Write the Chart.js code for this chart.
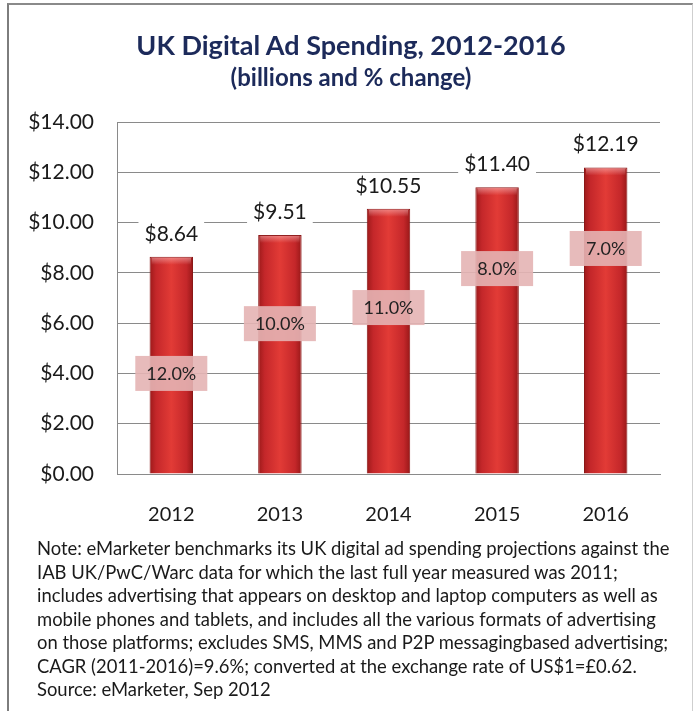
<!DOCTYPE html>
<html>
<head>
<meta charset="utf-8">
<script src="https://cdn.jsdelivr.net/npm/chart.js@4.4.0/dist/chart.umd.min.js"></script>
<style>
  body { margin: 0; background: #fff; }
  #wrap { position: relative; width: 697px; height: 711px; overflow: hidden; }
  #frame { position: absolute; left: 7px; top: 3px; width: 683px; height: 720px;
           border-left: 2px solid #7d7d7d; border-top: 2px solid #8a8a8a; border-right: 1px solid #cfcfcf; }
  #c { position: absolute; left: 0; top: 0; }
  .ttl { position: absolute; left: 0; width: 702px; text-align: center; font-family: Lato, sans-serif;
         font-weight: bold; color: #1c2a5a; white-space: nowrap; }
  #title { top: 29px; font-size: 27px; line-height: 32px; }
  #subtitle { top: 63px; font-size: 24px; line-height: 28px; }
  #note { position: absolute; left: 37px; top: 537px; font-family: Lato, sans-serif; font-size: 17px;
          line-height: 23.5px; color: #1a1a1a; white-space: nowrap; }
</style>
</head>
<body>
<div id="wrap">
  <div id="frame"></div>
  <canvas id="c" width="697" height="540"></canvas>
  <div class="ttl" id="title"></div>
  <div class="ttl" id="subtitle"></div>
  <div id="note"></div>
</div>
<script>
// chart data
const years = ['2012', '2013', '2014', '2015', '2016'];
const spending = [8.64, 9.51, 10.55, 11.40, 12.19];
const pctChange = [12.0, 10.0, 11.0, 8.0, 7.0];
const yMin = 0, yMax = 14, yStep = 2;
const titleText = 'UK Digital Ad Spending, 2012-2016';
const subtitleText = '(billions and % change)';
const noteLines = [
  'Note: eMarketer benchmarks its UK digital ad spending projections against the',
  'IAB UK/PwC/Warc data for which the last full year measured was 2011;',
  'includes advertising that appears on desktop and laptop computers as well as',
  'mobile phones and tablets, and includes all the various formats of advertising',
  'on those platforms; excludes SMS, MMS and P2P messagingbased advertising;',
  'CAGR (2011-2016)=9.6%; converted at the exchange rate of US$1=\u00a30.62.',
  'Source: eMarketer, Sep 2012'
];

// where the % boxes sit (in axis units), they were placed by hand in the original
const pctBoxAt = [4.02, 6.0, 6.64, 8.19, 8.99];

const FONT = 'Lato, sans-serif';
const BAR_PCT = 0.4;

document.getElementById('title').textContent = titleText;
document.getElementById('subtitle').textContent = subtitleText;

// fit the note so its first line is as wide as in the original (~633px)
const note = document.getElementById('note');
note.innerHTML = noteLines.join('<br>');
const mctx = document.createElement('canvas').getContext('2d');
mctx.font = '17px ' + FONT;
const w17 = mctx.measureText(noteLines[0]).width;
note.style.fontSize = (17 * 633 / w17).toFixed(2) + 'px';

function barGradient(ctx) {
  const chart = ctx.chart;
  const area = chart.chartArea;
  if (!area) return '#c8282a';
  const x = chart.scales.x.getPixelForValue(ctx.dataIndex);
  const w = area.width / years.length * BAR_PCT;
  const g = chart.ctx.createLinearGradient(x - w / 2, 0, x + w / 2, 0);
  g.addColorStop(0, '#9c1a1a');
  g.addColorStop(0.15, '#c4272a');
  g.addColorStop(0.5, '#e23b36');
  g.addColorStop(0.85, '#c4272a');
  g.addColorStop(1, '#981818');
  return g;
}

const barLabels = {
  id: 'barLabels',
  afterDatasetsDraw(chart) {
    const ctx = chart.ctx;
    const meta = chart.getDatasetMeta(0);
    const yScale = chart.scales.y;
    ctx.save();
    meta.data.forEach((bar, i) => {
      const w = bar.width;
      // little shiny cap at the top of each bar
      const cap = ctx.createLinearGradient(0, bar.y, 0, bar.y + 8);
      cap.addColorStop(0, 'rgba(255,200,200,0.55)');
      cap.addColorStop(1, 'rgba(255,200,200,0)');
      ctx.fillStyle = cap;
      ctx.fillRect(bar.x - w / 2 + 2, bar.y + 1, w - 4, 8);

      // value label with white backing
      const txt = '$' + spending[i].toFixed(2);
      ctx.font = '21px ' + FONT;
      const tw = ctx.measureText(txt).width;
      const ly = bar.y - 23;
      ctx.fillStyle = '#ffffff';
      ctx.fillRect(bar.x - tw / 2 - 6, ly - 12, tw + 12, 24);
      ctx.fillStyle = '#1a1a1a';
      ctx.textAlign = 'center';
      ctx.textBaseline = 'middle';
      ctx.fillText(txt, bar.x, ly);

      // % change box
      const py = yScale.getPixelForValue(pctBoxAt[i]);
      ctx.fillStyle = 'rgba(228,180,180,0.9)';
      ctx.fillRect(bar.x - 36, py - 17, 72, 35);
      ctx.font = '18px ' + FONT;
      ctx.fillStyle = '#222222';
      ctx.fillText(pctChange[i].toFixed(1) + '%', bar.x, py + 1);
    });
    ctx.restore();
  }
};

new Chart(document.getElementById('c'), {
  type: 'bar',
  data: {
    labels: years,
    datasets: [{
      data: spending,
      backgroundColor: barGradient,
      borderColor: '#8a1717',
      borderWidth: 1,
      categoryPercentage: 1,
      barPercentage: BAR_PCT
    }]
  },
  options: {
    responsive: false,
    animation: false,
    devicePixelRatio: 1,
    layout: { padding: { left: 0, right: 37, top: 122, bottom: 0 } },
    plugins: {
      legend: { display: false },
      tooltip: { enabled: false }
    },
    scales: {
      x: {
        grid: { display: false },
        border: { color: '#8a8a8a' },
        ticks: { color: '#1a1a1a', padding: 21, font: { family: FONT, size: 20 } },
        afterFit: (s) => { s.height = 66; }
      },
      y: {
        min: yMin,
        max: yMax,
        grid: { color: '#8a8a8a', drawTicks: false },
        border: { color: '#8a8a8a' },
        ticks: {
          stepSize: yStep,
          padding: 23,
          color: '#1a1a1a',
          font: { family: FONT, size: 21 },
          callback: (v) => '$' + Number(v).toFixed(2)
        },
        afterFit: (s) => { s.width = 117; }
      }
    }
  },
  plugins: [barLabels]
});
</script>
</body>
</html>
